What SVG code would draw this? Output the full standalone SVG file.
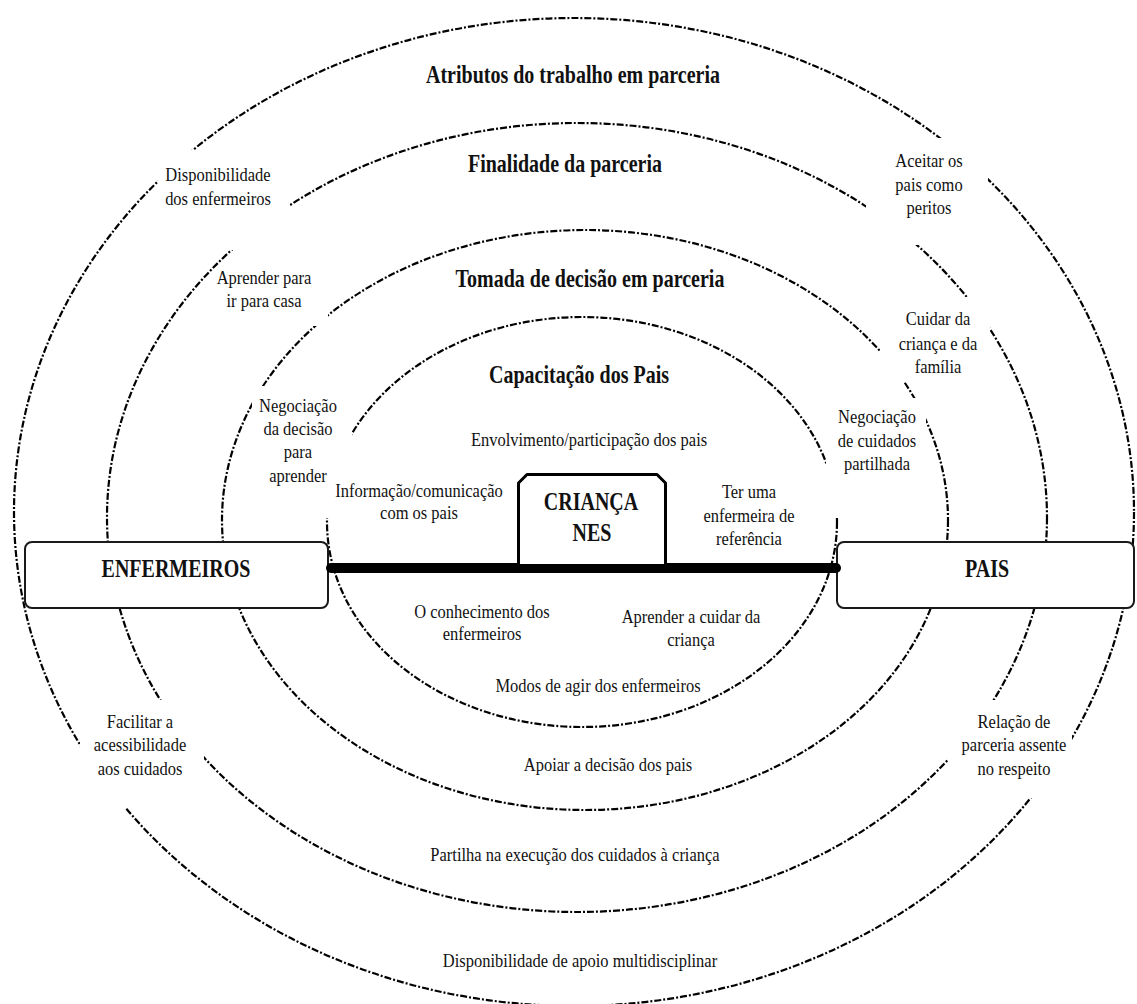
<svg xmlns="http://www.w3.org/2000/svg" width="1137" height="1004" viewBox="0 0 1137 1004">
<style>
.ring{fill:none;stroke:#000;stroke-width:2.2;stroke-dasharray:7 2 2 2;}
.box{fill:#fff;stroke:#1a1a1a;stroke-width:2;}
.h{font-family:"Liberation Serif","Times New Roman",serif;font-weight:bold;font-size:20px;text-anchor:middle;fill:#111;}
.t{font-family:"Liberation Serif","Times New Roman",serif;font-size:16.5px;text-anchor:middle;fill:#111;}
</style>
<defs>
<mask id="gaps" maskUnits="userSpaceOnUse" x="0" y="0" width="1137" height="1004">
<rect x="0" y="0" width="1137" height="1004" fill="#fff"/>
<rect x="158" y="150" width="132" height="100" fill="#000"/>
<rect x="866" y="138" width="122" height="107" fill="#000"/>
<rect x="230" y="262" width="98" height="64" fill="#000"/>
<rect x="880" y="297" width="110" height="85" fill="#000"/>
<rect x="252" y="386" width="100" height="132" fill="#000"/>
<rect x="826" y="398" width="100" height="120" fill="#000"/>
<rect x="80" y="700" width="124" height="108" fill="#000"/>
<rect x="948" y="700" width="124" height="98" fill="#000"/>
</mask>
</defs>
<rect x="0" y="0" width="1137" height="1004" fill="#fff"/>
<g id="rings" mask="url(#gaps)">
<ellipse id="ring-atributos" class="ring" cx="574" cy="512" rx="560" ry="494"/>
<ellipse id="ring-finalidade" class="ring" cx="577" cy="517.5" rx="470" ry="394.5"/>
<ellipse id="ring-tomada" class="ring" cx="585" cy="520" rx="363" ry="290"/>
<ellipse id="ring-capacitacao" class="ring" cx="582" cy="522" rx="255" ry="205"/>
</g>
<g id="headings">
<text class="h" transform="translate(573,83) scale(1,1.27)">Atributos do trabalho em parceria</text>
<text class="h" transform="translate(565,172) scale(1,1.27)">Finalidade da parceria</text>
<text class="h" transform="translate(590,287) scale(1,1.27)">Tomada de decisão em parceria</text>
<text class="h" transform="translate(579,383) scale(1,1.27)">Capacitação dos Pais</text>
</g>
<g id="node-enfermeiros">
<rect class="box" x="25" y="542" width="303" height="66" rx="7"/>
<text class="h" transform="translate(176,577) scale(1,1.3)">ENFERMEIROS</text>
</g>
<g id="node-pais">
<rect class="box" x="837" y="542" width="297" height="66" rx="7"/>
<text class="h" transform="translate(987,577) scale(1,1.3)">PAIS</text>
</g>
<g id="connectors">
<line x1="331" y1="568" x2="836" y2="568" stroke="#000" stroke-width="10" stroke-linecap="round"/>
</g>
<g id="node-crianca">
<path d="M518.5,564 L518.5,483 L527,474.5 L657,474.5 L665.5,483 L665.5,564" fill="#fff" stroke="#000" stroke-width="3" stroke-linejoin="round"/>
<text class="h" transform="translate(591,510) scale(1,1.3)">CRIANÇA</text>
<text class="h" transform="translate(592,541) scale(1,1.3)">NES</text>
</g>
<g id="label-disponibilidade-enf">
<text class="t" transform="translate(218,181) scale(1,1.18)">Disponibilidade</text>
<text class="t" transform="translate(218,205) scale(1,1.18)">dos enfermeiros</text>
</g>
<g id="label-aceitar">
<text class="t" transform="translate(929,167) scale(1,1.18)">Aceitar os</text>
<text class="t" transform="translate(929,191) scale(1,1.18)">pais como</text>
<text class="t" transform="translate(929,214) scale(1,1.18)">peritos</text>
</g>
<g id="label-aprender-casa">
<text class="t" transform="translate(264,284) scale(1,1.18)">Aprender para</text>
<text class="t" transform="translate(264,307) scale(1,1.18)">ir para casa</text>
</g>
<g id="label-cuidar">
<text class="t" transform="translate(938,325) scale(1,1.18)">Cuidar da</text>
<text class="t" transform="translate(938,350) scale(1,1.18)">criança e da</text>
<text class="t" transform="translate(938,373) scale(1,1.18)">família</text>
</g>
<g id="label-negociacao-decisao">
<text class="t" transform="translate(298,412) scale(1,1.18)">Negociação</text>
<text class="t" transform="translate(298,435) scale(1,1.18)">da decisão</text>
<text class="t" transform="translate(298,458) scale(1,1.18)">para</text>
<text class="t" transform="translate(298,482) scale(1,1.18)">aprender</text>
</g>
<g id="label-negociacao-cuidados">
<text class="t" transform="translate(877,423) scale(1,1.18)">Negociação</text>
<text class="t" transform="translate(877,447) scale(1,1.18)">de cuidados</text>
<text class="t" transform="translate(877,470) scale(1,1.18)">partilhada</text>
</g>
<g id="label-envolvimento">
<text class="t" transform="translate(589,446) scale(1,1.18)">Envolvimento/participação dos pais</text>
</g>
<g id="label-informacao">
<text class="t" transform="translate(419,497) scale(1,1.18)">Informação/comunicação</text>
<text class="t" transform="translate(419,519) scale(1,1.18)">com os pais</text>
</g>
<g id="label-ter-enfermeira">
<text class="t" transform="translate(749,498) scale(1,1.18)">Ter uma</text>
<text class="t" transform="translate(749,522) scale(1,1.18)">enfermeira de</text>
<text class="t" transform="translate(749,545) scale(1,1.18)">referência</text>
</g>
<g id="label-conhecimento">
<text class="t" transform="translate(482,618) scale(1,1.18)">O conhecimento dos</text>
<text class="t" transform="translate(482,640) scale(1,1.18)">enfermeiros</text>
</g>
<g id="label-aprender-cuidar">
<text class="t" transform="translate(691,623) scale(1,1.18)">Aprender a cuidar da</text>
<text class="t" transform="translate(691,646) scale(1,1.18)">criança</text>
</g>
<g id="label-modos">
<text class="t" transform="translate(598,692) scale(1,1.18)">Modos de agir dos enfermeiros</text>
</g>
<g id="label-apoiar">
<text class="t" transform="translate(608,771) scale(1,1.18)">Apoiar a decisão dos pais</text>
</g>
<g id="label-partilha">
<text class="t" transform="translate(575,861) scale(1,1.18)">Partilha na execução dos cuidados à criança</text>
</g>
<g id="label-disponibilidade-apoio">
<text class="t" transform="translate(580,967) scale(1,1.18)">Disponibilidade de apoio multidisciplinar</text>
</g>
<g id="label-facilitar">
<text class="t" transform="translate(140,728) scale(1,1.18)">Facilitar a</text>
<text class="t" transform="translate(140,751) scale(1,1.18)">acessibilidade</text>
<text class="t" transform="translate(140,775) scale(1,1.18)">aos cuidados</text>
</g>
<g id="label-relacao">
<text class="t" transform="translate(1014,728) scale(1,1.18)">Relação de</text>
<text class="t" transform="translate(1014,751) scale(1,1.18)">parceria assente</text>
<text class="t" transform="translate(1014,775) scale(1,1.18)">no respeito</text>
</g>
</svg>
